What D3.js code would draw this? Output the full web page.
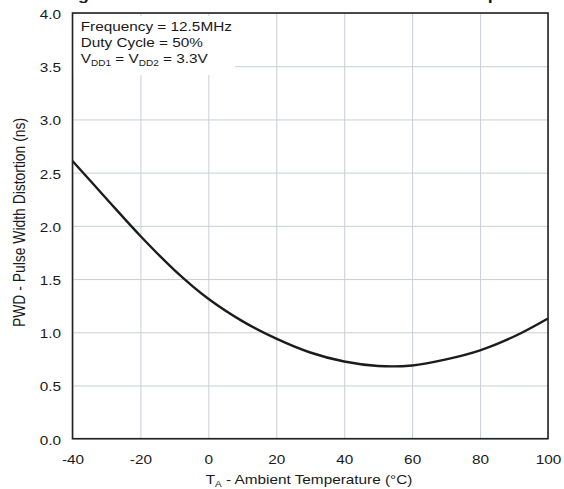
<!DOCTYPE html>
<html><head><meta charset="utf-8">
<script src="https://cdn.jsdelivr.net/npm/d3@7"></script>
<style>html,body{margin:0;padding:0;background:#fff;}svg{display:block;}</style>
</head><body>
<script>
// ---- data ----
const temps = [-40, -30, -20, -10, 0, 10, 20, 30, 40, 50, 60, 70, 80, 90, 100];
const pwd   = [2.61, 2.255, 1.905, 1.585, 1.315, 1.105, 0.94, 0.81, 0.725, 0.683, 0.688, 0.745, 0.83, 0.96, 1.13];
const xTicks = [-40, -20, 0, 20, 40, 60, 80, 100];
const yTicks = [0, 0.5, 1.0, 1.5, 2.0, 2.5, 3.0, 3.5, 4.0];
const annotLines = ["Frequency = 12.5MHz", "Duty Cycle = 50%"];
const titleText = "Figure 14. Pulse Width Distortion vs Ambient Temperature";
const xTitle = ["T", "A", " - Ambient Temperature (°C)"];
const yTitle = "PWD - Pulse Width Distortion (ns)";

// ---- layout ----
const W = 564, H = 489;
const L = 72.5, R = 548, T = 13, B = 438.7;
const SX = 1.18;
const FONT = "'Liberation Sans', Arial, Helvetica, sans-serif";
const INK = "#1a1a1a";

const x = d3.scaleLinear().domain([-40, 100]).range([L, R]);
const y = d3.scaleLinear().domain([0, 4]).range([B, T]);

const svg = d3.select("body").append("svg").attr("width", W).attr("height", H)
  .style("font-family", FONT);

// title (cut off at top, as in the reference)
svg.append("text").attr("transform", `translate(62,0) scale(${SX},1)`)
  .attr("font-size", 15.3).attr("font-weight", "bold").attr("fill", INK).text(titleText);

// gridlines
svg.append("g").attr("transform", `translate(0,${B})`)
  .call(d3.axisBottom(x).tickValues(xTicks).tickSize(-(B - T)).tickFormat(""))
  .call(g => g.select(".domain").remove())
  .call(g => g.selectAll("line").attr("stroke", "#c9ced6").attr("stroke-width", 1));
svg.append("g").attr("transform", `translate(${L},0)`)
  .call(d3.axisLeft(y).tickValues(yTicks).tickSize(-(R - L)).tickFormat(""))
  .call(g => g.select(".domain").remove())
  .call(g => g.selectAll("line").attr("stroke", "#c9ced6").attr("stroke-width", 1));

// annotation box
svg.append("rect").attr("x", L + 1).attr("y", T + 3).attr("width", 235 - L - 1).attr("height", 59).attr("fill", "#fff");
const ann = svg.append("g").attr("fill", INK).attr("font-size", 13);
annotLines.forEach((s, i) => {
  ann.append("text").attr("transform", `translate(80.7,${30.7 + i * 16.3}) scale(${SX},1)`).text(s);
});
const v = ann.append("text").attr("transform", `translate(80.7,${30.7 + 2 * 16.3}) scale(${SX},1)`);
v.append("tspan").text("V");
v.append("tspan").attr("font-size", 8.5).attr("dy", 3).text("DD1");
v.append("tspan").attr("dy", -3).text(" = V");
v.append("tspan").attr("font-size", 8.5).attr("dy", 3).text("DD2");
v.append("tspan").attr("dy", -3).text(" = 3.3V");

// curve
const pts = temps.map((t, i) => [t, pwd[i]]);
svg.append("path").datum(pts)
  .attr("d", d3.line().x(d => x(d[0])).y(d => y(d[1])).curve(d3.curveCatmullRom.alpha(0.5)))
  .attr("fill", "none").attr("stroke", "#1c1c1c").attr("stroke-width", 2.4);

// frame
svg.append("rect").attr("x", L).attr("y", T).attr("width", R - L).attr("height", B - T)
  .attr("fill", "none").attr("stroke", "#222").attr("stroke-width", 1.6);

// axes labels
svg.append("g").attr("transform", `translate(0,${B})`)
  .call(d3.axisBottom(x).tickValues(xTicks).tickSize(0).tickPadding(0).tickFormat(d => String(d)))
  .call(g => g.select(".domain").remove())
  .call(g => g.selectAll("text").attr("font-size", 13).attr("font-family", FONT).attr("fill", INK)
      .attr("y", 25.5).attr("dy", null).attr("transform", `scale(${SX},1)`));
svg.append("g").attr("transform", `translate(${L},0)`)
  .call(d3.axisLeft(y).tickValues(yTicks).tickSize(0).tickPadding(0).tickFormat(d3.format(".1f")))
  .call(g => g.select(".domain").remove())
  .call(g => g.selectAll("text").attr("font-size", 13).attr("font-family", FONT).attr("fill", INK)
      .attr("x", -11.5 / SX).attr("dy", null).attr("y", 5.5).attr("transform", `scale(${SX},1)`));

// x title
const xt = svg.append("text").attr("transform", `translate(309,484.3) scale(${SX},1)`)
  .attr("text-anchor", "middle").attr("font-size", 13).attr("fill", INK);
xt.append("tspan").text(xTitle[0]);
xt.append("tspan").attr("font-size", 8.5).attr("dy", 3).text(xTitle[1]);
xt.append("tspan").attr("dy", -3).text(xTitle[2]);

// y title
svg.append("text").attr("transform", `translate(24.5,222.5) rotate(-90) scale(1,${SX})`)
  .attr("text-anchor", "middle").attr("font-size", 13.9).attr("fill", INK).text(yTitle);
</script>
</body></html>
